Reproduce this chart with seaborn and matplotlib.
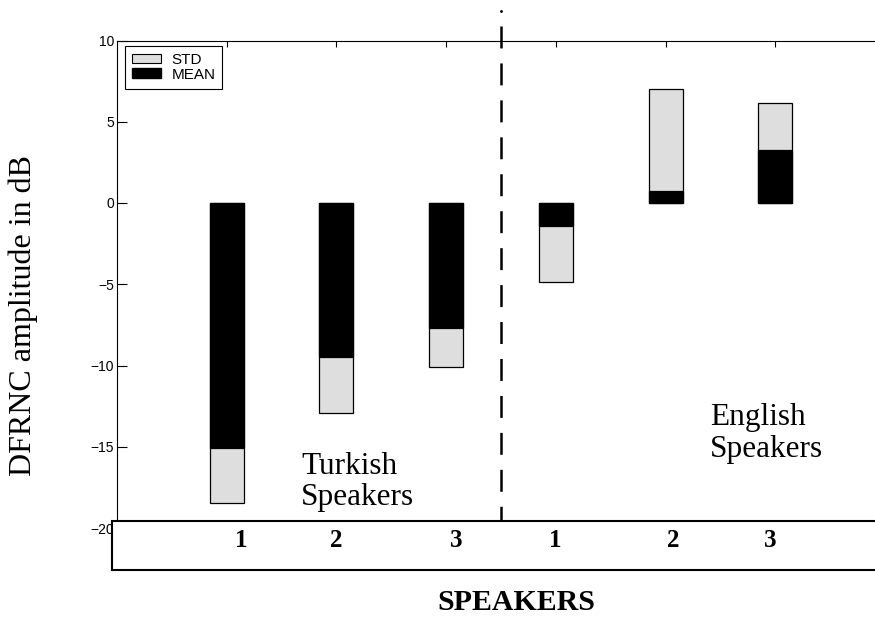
import numpy as np
import pandas as pd
import matplotlib
matplotlib.use("Agg")
import matplotlib.pyplot as plt
import seaborn as sns
from matplotlib.patches import Patch, Rectangle

# ---------------- data ----------------
speakers = ['1', '2', '3', '1', '2', '3']
groups = ['Turkish', 'Turkish', 'Turkish', 'English', 'English', 'English']
mean_db = [-15.07, -9.5, -7.67, -1.41, 0.74, 3.25]
std_db = [3.38, 3.4, 2.41, 3.47, 6.29, 2.88]
yticks = [-20, -15, -10, -5, 0, 5, 10]
legend_labels = ['STD', 'MEAN']
group_text = {'Turkish': ('Turkish', 'Speakers'), 'English': ('English', 'Speakers')}
xlabel = 'SPEAKERS'
ylabel = 'DFRNC amplitude in dB'

# ---------------- style ----------------
sns.set_style('ticks')
plt.rcParams['font.family'] = ['Liberation Sans', 'DejaVu Sans']
plt.rcParams['lines.scale_dashes'] = False
for k in ['text.color', 'axes.labelcolor', 'xtick.color', 'ytick.color',
          'axes.edgecolor']:
    plt.rcParams[k] = 'black'
SERIF = ['Liberation Serif', 'DejaVu Serif']
GRAY = '#dedede'
W, H = 875, 617

ids = [f'{g[0]}{s}' for g, s in zip(groups, speakers)]
ext = [m + np.sign(m) * s for m, s in zip(mean_db, std_db)]
df = pd.DataFrame({'id': ids, 'mean': mean_db, 'ext': ext})

fig = plt.figure(figsize=(W / 100, H / 100), dpi=100)
ax = fig.add_axes([117 / W, 1 - 528 / H, 768 / W, 487.5 / H])

sns.barplot(data=df, x='id', y='ext', order=ids, color=GRAY, saturation=1,
            width=0.31, edgecolor='black', linewidth=0.9, errorbar=None,
            ax=ax, zorder=2)
sns.barplot(data=df, x='id', y='mean', order=ids, color='black', saturation=1,
            width=0.31, edgecolor='black', linewidth=0.9, errorbar=None,
            ax=ax, zorder=3)

ax.set_xlim(-1, 6)
ax.set_ylim(-20, 10)
ax.set_yticks(yticks)
ax.set_xlabel('')
ax.set_ylabel('')
ax.tick_params(axis='y', direction='in', length=7, width=0.8, left=True,
               right=True, labelsize=10, pad=2)
ax.tick_params(axis='x', direction='in', length=4, width=0.8, top=True,
               bottom=False, labelbottom=False)
for sp in ax.spines.values():
    sp.set_visible(True)
    sp.set_linewidth(0.8)
    sp.set_color('black')

# dashed separator between groups
ax.plot([2.5, 2.5], [10.89, -20], color='black', lw=1.8, dashes=(15.8, 10.8),
        clip_on=False, zorder=4)
ax.plot([2.5], [11.83], marker='.', ms=2, color='black', clip_on=False)

# legend
handles = [Patch(facecolor=GRAY, edgecolor='black', linewidth=0.8),
           Patch(facecolor='black', edgecolor='black')]
leg = ax.legend(handles, legend_labels, loc='upper left',
                bbox_to_anchor=(0.0104, 0.9887), borderaxespad=0, fontsize=11,
                handlelength=1.9, handleheight=0.6, handletextpad=0.7,
                labelspacing=0.05, borderpad=0.45, fancybox=False,
                framealpha=1, edgecolor='black')
leg.get_frame().set_linewidth(0.8)

# y label
fig.text(23 / W, 1 - 315 / H, ylabel, rotation=90, fontsize=23, family=SERIF,
         ha='center', va='center')

# bottom label box
fig.add_artist(Rectangle((112 / W, 1 - 570 / H), (890 - 112) / W, 49 / H,
                         transform=fig.transFigure, facecolor='white',
                         edgecolor='black', linewidth=1.5, zorder=5))
label_x_px = [241, 336, 456, 555, 673, 770]
for lab, xp in zip(speakers, label_x_px):
    fig.text(xp / W, 1 - 547 / H, lab, ha='center', va='baseline', fontsize=18,
             fontweight='bold', family=SERIF, zorder=6)

fig.text(516 / W, 1 - 610 / H, xlabel, ha='center', va='baseline',
         fontsize=21.5, fontweight='bold', family=SERIF)

# group annotations
for g, (x0, y0) in zip(['Turkish', 'English'], [(301, 474), (710, 425)]):
    l1, l2 = group_text[g]
    fig.text(x0 / W, 1 - y0 / H, l1, ha='left', va='baseline', fontsize=22.5,
             family=SERIF)
    fig.text(x0 / W, 1 - (y0 + 31.5) / H, l2, ha='left', va='baseline',
             fontsize=22.5, family=SERIF)

fig.savefig('out.png', dpi=100)
